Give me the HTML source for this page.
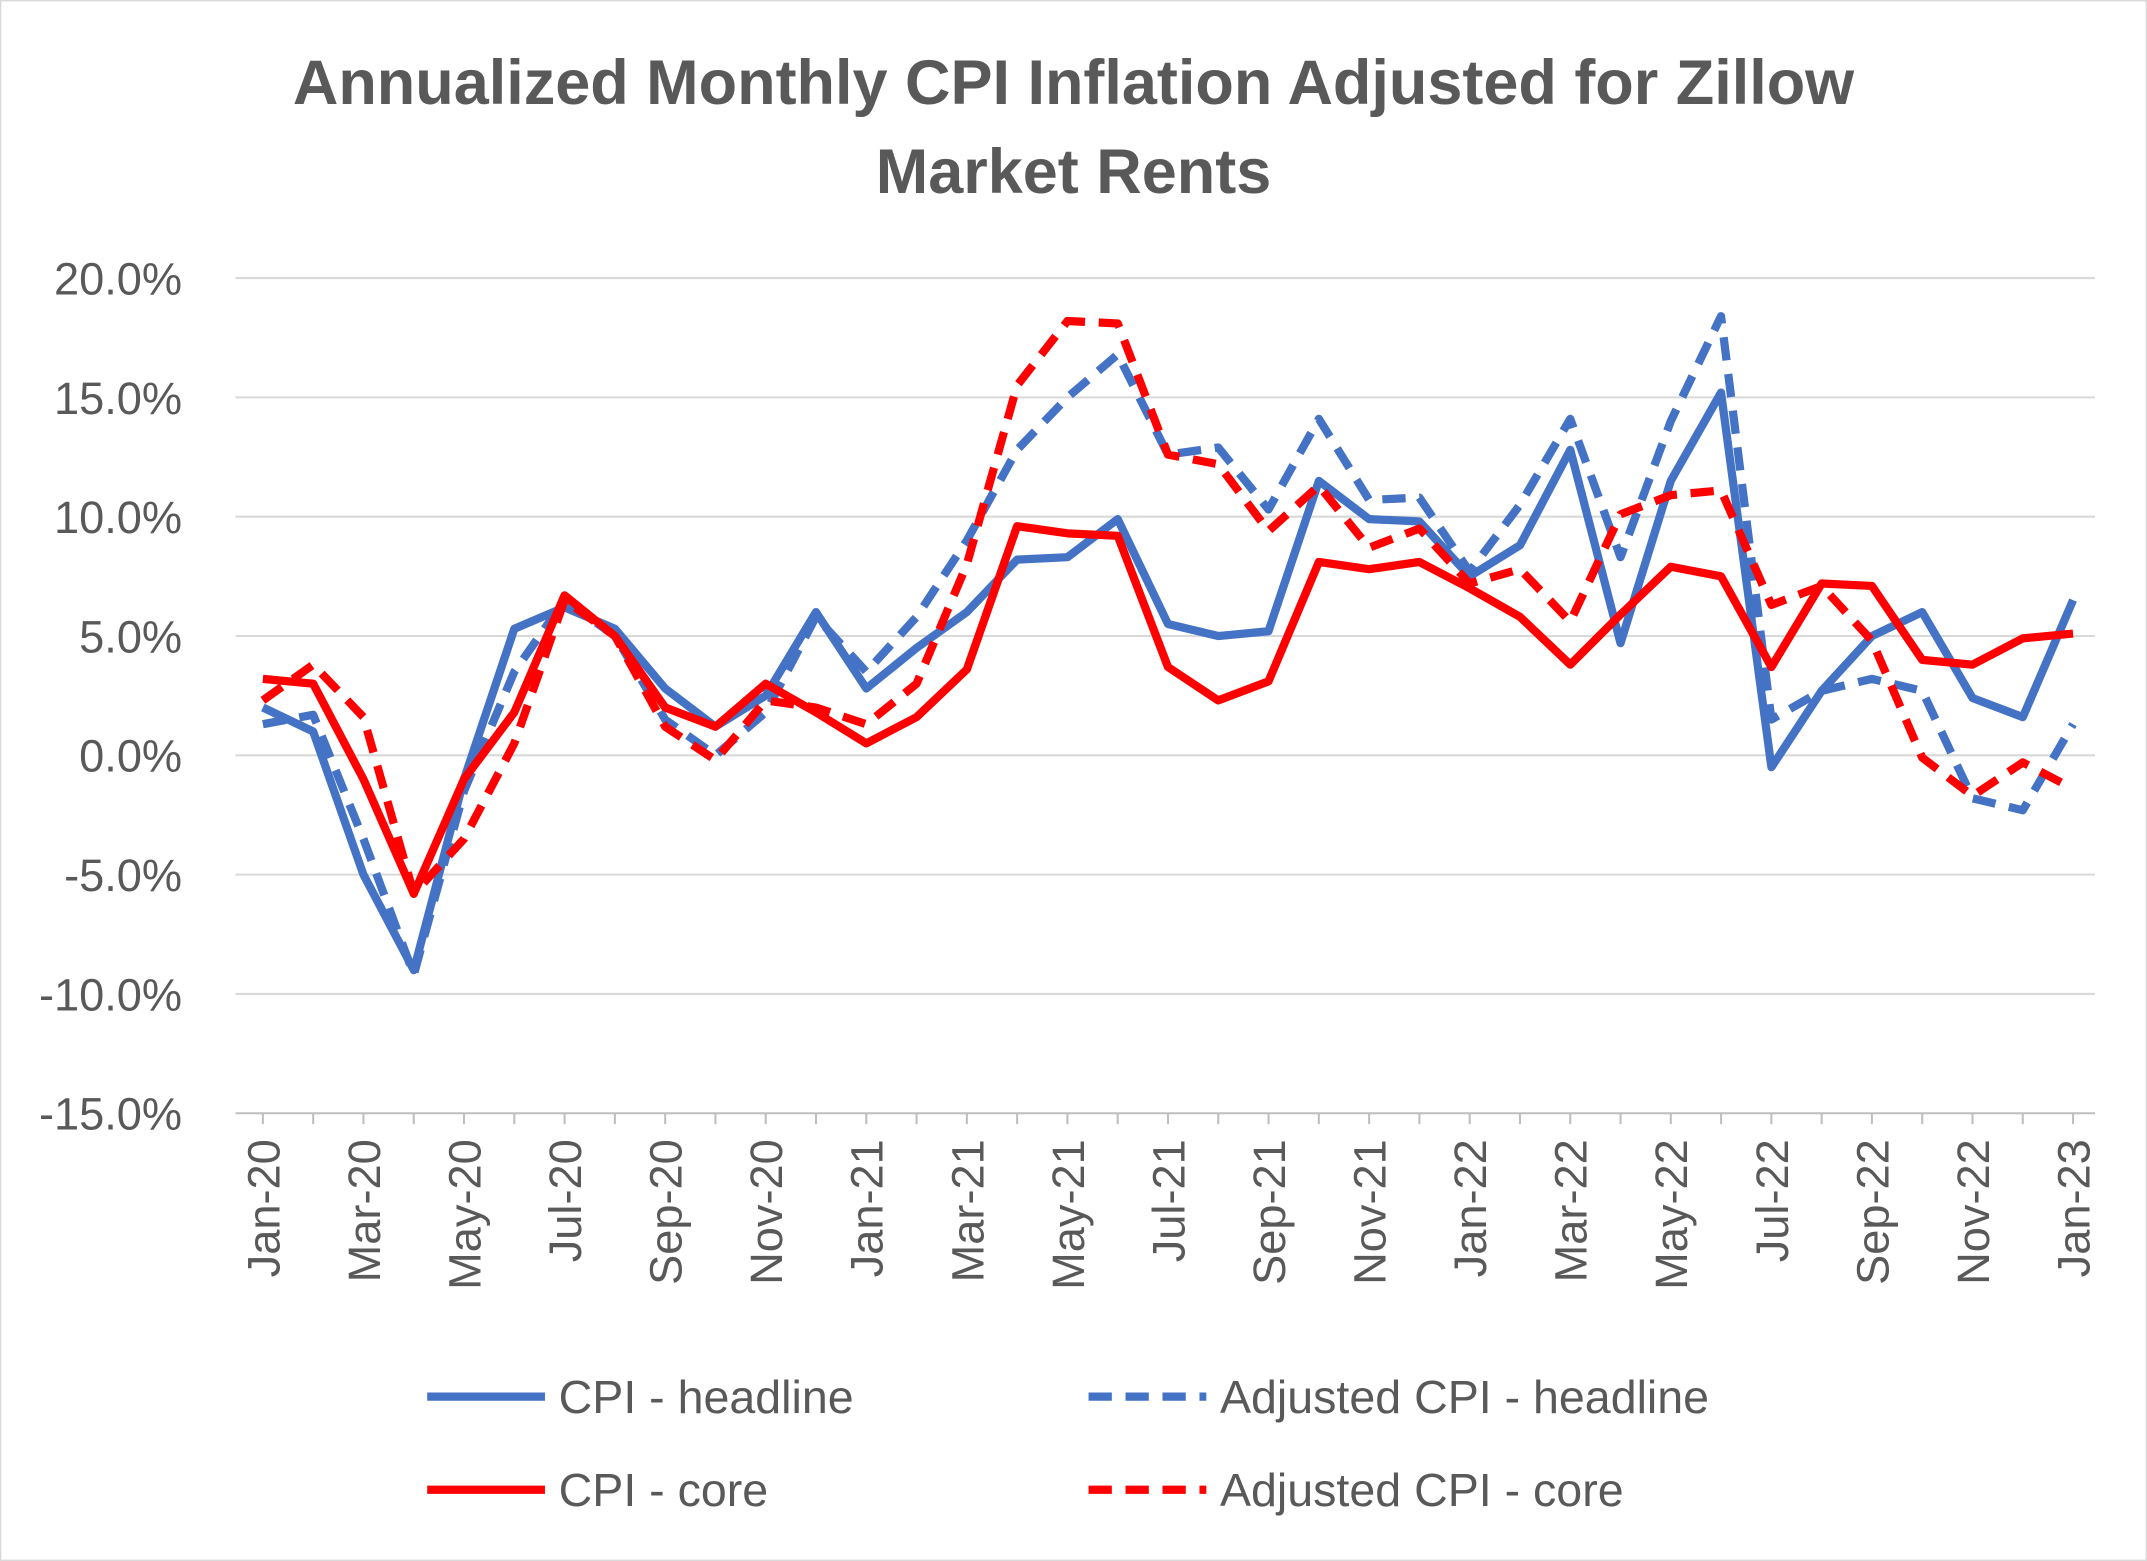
<!DOCTYPE html>
<html><head><meta charset="utf-8"><style>
html,body{margin:0;padding:0;background:#fff;}
svg{display:block;}
text{font-family:"Liberation Sans",sans-serif;fill:#595959;}
</style></head><body>
<svg id="c" width="2147" height="1561" viewBox="0 0 1568 1140" xmlns="http://www.w3.org/2000/svg">
<rect x="0.5" y="0.5" width="1567" height="1139" fill="#fff" stroke="#d9d9d9"/>
<text x="784" y="76" font-size="46" font-weight="bold" text-anchor="middle">Annualized Monthly CPI Inflation Adjusted for Zillow</text>
<text x="784" y="141" font-size="46" font-weight="bold" text-anchor="middle">Market Rents</text>
<g id="grid"></g>
<g id="ylab"></g>
<g id="xlab"></g>
<g id="series"></g>
<g stroke-width="6" fill="none">
<line x1="312" y1="1020" x2="398" y2="1020" stroke="#4472c4"/>
<line x1="795" y1="1020" x2="881" y2="1020" stroke="#4472c4" stroke-dasharray="17,10"/>
<line x1="312" y1="1088" x2="398" y2="1088" stroke="#ff0000"/>
<line x1="795" y1="1088" x2="881" y2="1088" stroke="#ff0000" stroke-dasharray="17,10"/>
</g>
<text x="408" y="1032" font-size="34">CPI - headline</text>
<text x="891" y="1032" font-size="34">Adjusted CPI - headline</text>
<text x="408" y="1100" font-size="34">CPI - core</text>
<text x="891" y="1100" font-size="34">Adjusted CPI - core</text>
</svg>
<script>
const NS="http://www.w3.org/2000/svg";
const x0=192,dx=(1514-192)/36,y0=551.6,py=87.14/5;
const X=i=>x0+i*dx, Y=v=>y0-v*py;
function el(t,a,p,txt){const e=document.createElementNS(NS,t);for(const k in a)e.setAttribute(k,a[k]);if(txt)e.textContent=txt;document.getElementById(p).appendChild(e);return e;}
for(let v=20;v>=-15;v-=5){const y=Y(v);
 el('line',{x1:172,x2:1530,y1:y,y2:y,stroke:v==-15?'#bfbfbf':'#d9d9d9','stroke-width':1.5},'grid');
 el('text',{x:133,y:y+12,'font-size':33,'text-anchor':'end'},'ylab',v.toFixed(1)+'%');}
const mon=['Jan','Mar','May','Jul','Sep','Nov'];
for(let i=0;i<=36;i++){const x=X(i);
 el('line',{x1:x,x2:x,y1:813,y2:821,stroke:'#bfbfbf','stroke-width':1.5},'grid');
 if(i%2==0){const m=mon[(i%12)/2],yr=20+Math.floor(i/12);
 el('text',{x:0,y:0,'font-size':33,'text-anchor':'end',transform:`translate(${x+12},832) rotate(-90)`},'xlab',m+'-'+yr);}}
const d={
h:[2.0,1.0,-5.0,-9.0,-1.0,5.3,6.2,5.3,2.8,1.2,2.5,6.0,2.8,4.5,6.0,8.2,8.3,9.9,5.5,5.0,5.2,11.5,9.9,9.8,7.5,8.8,12.8,4.7,11.5,15.2,-0.5,2.7,5.0,6.0,2.4,1.6,6.5],
ah:[1.3,1.7,-3.5,-9.2,-1.5,3.5,6.5,5.0,1.5,0.0,1.8,5.8,3.5,5.8,9.0,12.8,15.0,16.8,12.6,12.9,10.3,14.1,10.7,10.8,7.7,10.5,14.1,8.3,14.0,18.4,1.5,2.7,3.2,2.7,-1.8,-2.3,1.3],
c:[3.2,3.0,-1.0,-5.8,-1.0,1.8,6.7,5.0,2.0,1.2,3.0,1.8,0.5,1.6,3.6,9.6,9.3,9.2,3.7,2.3,3.1,8.1,7.8,8.1,7.0,5.8,3.8,5.9,7.9,7.5,3.7,7.2,7.1,4.0,3.8,4.9,5.1],
ac:[2.3,3.8,1.6,-5.8,-3.5,0.5,6.5,5.0,1.2,-0.2,2.3,2.0,1.3,3.0,8.0,15.5,18.2,18.1,12.6,12.2,9.4,11.3,8.7,9.5,7.2,7.8,5.6,10.1,10.9,11.1,6.3,7.1,4.8,-0.1,-1.7,-0.3,-1.4]};
const st=[['h','#4472c4',0],['ah','#4472c4',1],['c','#ff0000',0],['ac','#ff0000',1]];
for(const [k,col,dash] of st){const pts=d[k].map((v,i)=>X(i).toFixed(1)+','+Y(v).toFixed(1)).join(' ');
 const a={points:pts,fill:'none',stroke:col,'stroke-width':6,'stroke-linejoin':'round'};if(dash)a['stroke-dasharray']='17,10';
 el('polyline',a,'series');}
</script>
</body></html>
